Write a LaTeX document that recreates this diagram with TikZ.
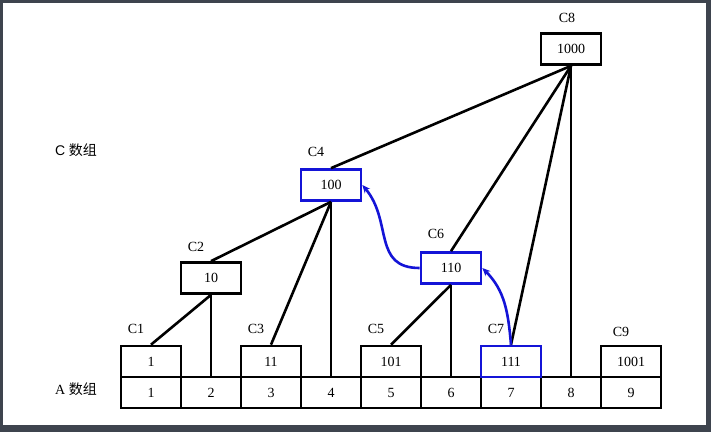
\documentclass[tikz,border=0pt]{standalone}
\usepackage{fontspec}
\setmainfont{Liberation Serif}
\newfontfamily\cjkfont{Noto Sans CJK SC}
\newfontfamily\lsans{Liberation Sans}
\usetikzlibrary{arrows.meta}
\definecolor{framegray}{RGB}{62,68,78}
\definecolor{hlblue}{RGB}{20,20,215}
\begin{document}
\begin{tikzpicture}[x=1pt,y=1pt,
  cell/.style={draw=black,line width=2.7pt,fill=white,minimum width=60pt,minimum height=31pt,inner sep=0pt,font=\fontsize{14}{16}\selectfont},
  hcell/.style={cell,draw=hlblue},
  lbl/.style={font=\fontsize{14}{16}\selectfont,inner sep=0pt},
  link/.style={line width=2.6pt,black},
  back/.style={line width=2.6pt,hlblue,-{Stealth[length=8pt,width=7pt]}}]
\useasboundingbox (0,0) rectangle (711,432);
\fill[framegray] (0,0) rectangle (711,432);
\fill[white] (3,7) rectangle (706,429);
% A row
\foreach \i in {1,...,9} {
  \node[cell] (a\i) at ({151+60*(\i-1)},39.5) {\i};
}
% C row
\node[cell] (c1) at (151,70.5) {1};
\node[cell] (c3) at (271,70.5) {11};
\node[cell] (c5) at (391,70.5) {101};
\node[hcell] (c7) at (511,70.5) {111};
\node[cell] (c9) at (631,70.5) {1001};
\node[cell] (c2) at (211,154) {10};
\node[hcell] (c4) at (331,247) {100};
\node[hcell] (c6) at (451,164) {110};
\node[cell] (c8) at (571,383) {1000};
% labels
\node[lbl] (l1) at (136,103.5) {C1};
\node[lbl] (l3) at (256,103.5) {C3};
\node[lbl] (l5) at (376,103.5) {C5};
\node[lbl] (l7) at (496,103.5) {C7};
\node[lbl] (l9) at (621,100) {C9};
\node[lbl] (l2) at (196,185) {C2};
\node[lbl] (l4) at (316,280.5) {C4};
\node[lbl] (l6) at (436,198) {C6};
\node[lbl] (l8) at (567,414.5) {C8};
\node[inner sep=0pt,font=\fontsize{14}{16}\selectfont] (ctitle) at (76,282) {{\lsans C} {\cjkfont 数组}};
\node[inner sep=0pt,font=\fontsize{14}{16}\selectfont] (atitle) at (76,43) {A {\cjkfont 数组}};
% tree links
\draw[link] (c1.north) -- (c2.south);
\draw[link] (a2.north) -- (c2.south);
\draw[link] (c2.north) -- (c4.south);
\draw[link] (c3.north) -- (c4.south);
\draw[link] (a4.north) -- (c4.south);
\draw[link] (c5.north) -- (c6.south);
\draw[link] (a6.north) -- (c6.south);
\draw[link] (c4.north) -- (c8.south);
\draw[link] (c6.north) -- (c8.south);
\draw[link] (c7.north) -- (c8.south);
\draw[link] (a8.north) -- (c8.south);
% update arrows
\draw[back] (c7.north) to[out=95,in=-45] (c6.east);
\draw[back] (c6.west) to[out=180,in=-50,looseness=1.2] (c4.east);
\end{tikzpicture}
\end{document}
